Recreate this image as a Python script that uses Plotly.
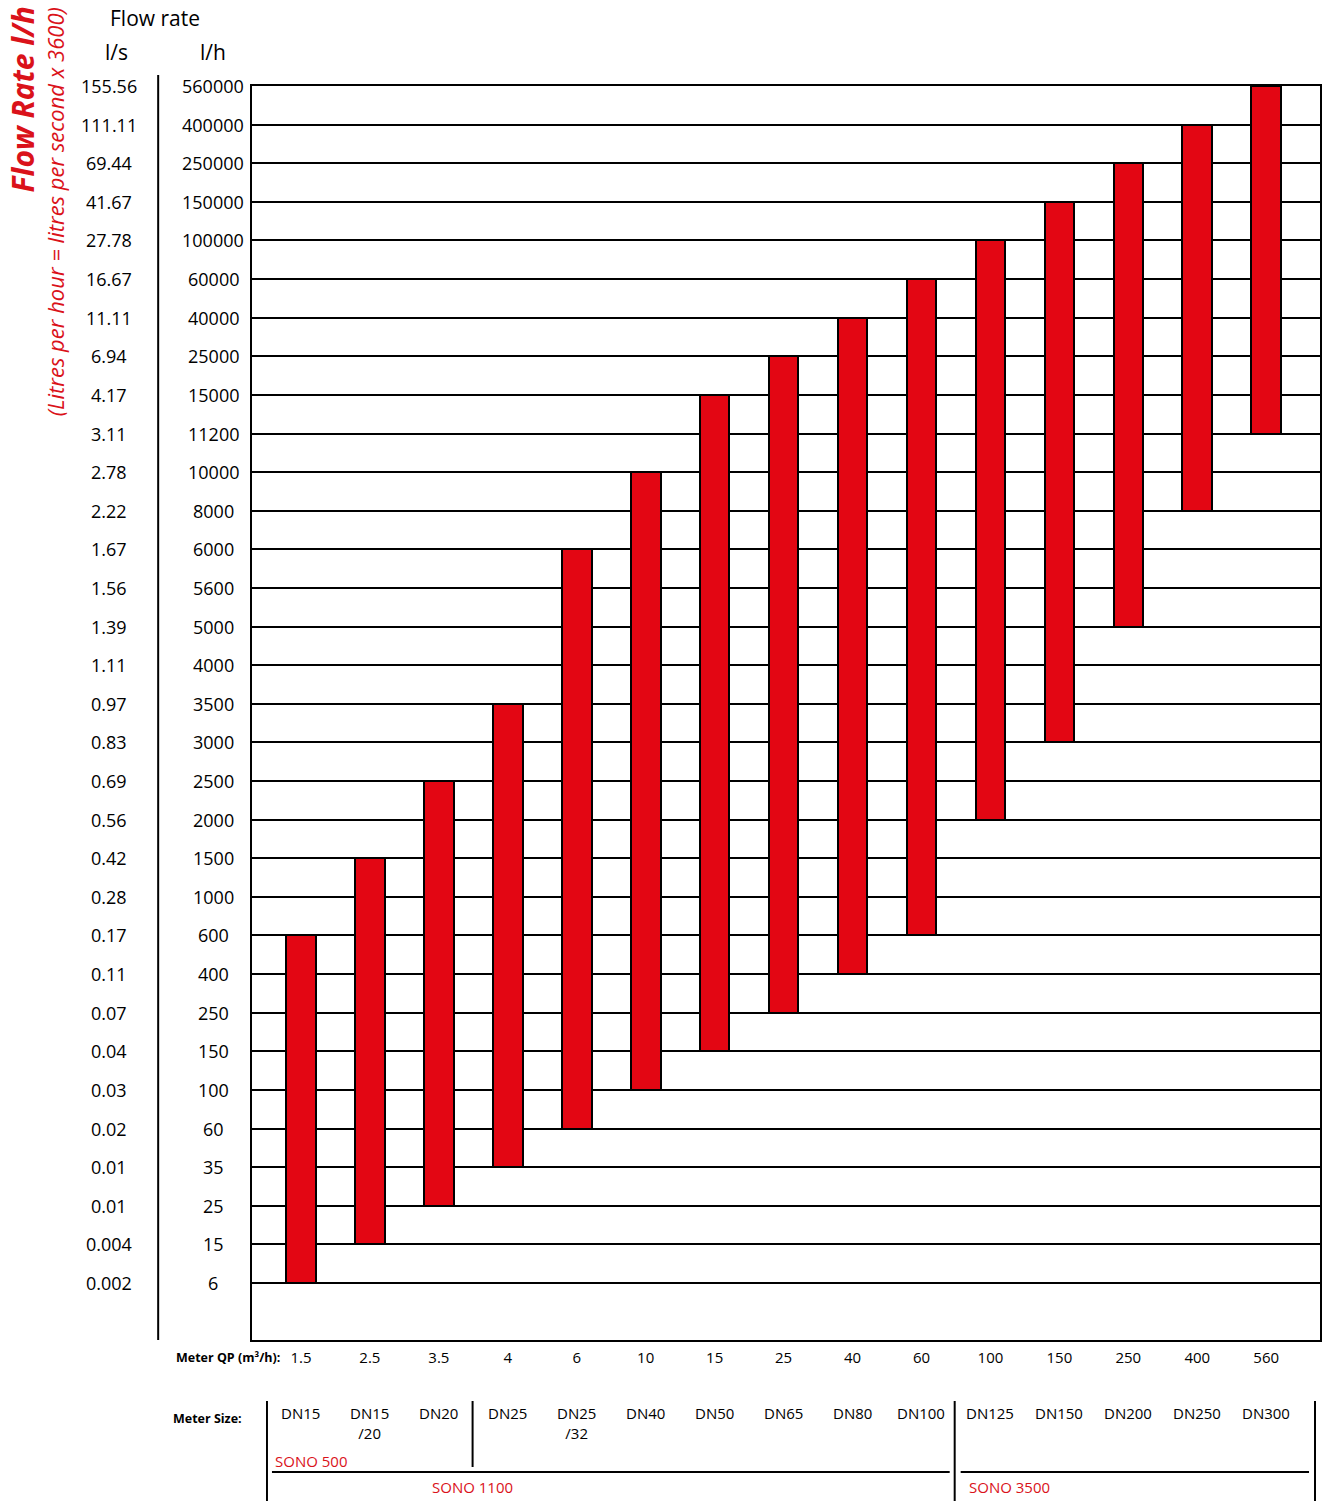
import plotly.graph_objects as go

# Flow-rate levels (l/h) and their l/s equivalents, bottom to top
flow_lh = [6, 15, 25, 35, 60, 100, 150, 250, 400, 600, 1000, 1500, 2000, 2500,
           3000, 3500, 4000, 5000, 5600, 6000, 8000, 10000, 11200, 15000, 25000,
           40000, 60000, 100000, 150000, 250000, 400000, 560000]
flow_ls = ["0.002", "0.004", "0.01", "0.01", "0.02", "0.03", "0.04", "0.07", "0.11",
           "0.17", "0.28", "0.42", "0.56", "0.69", "0.83", "0.97", "1.11", "1.39",
           "1.56", "1.67", "2.22", "2.78", "3.11", "4.17", "6.94", "11.11", "16.67",
           "27.78", "41.67", "69.44", "111.11", "155.56"]

# Meters: nominal flow QP (m³/h), size, and measuring range (l/h)
meter_qp = ["1.5", "2.5", "3.5", "4", "6", "10", "15", "25", "40", "60",
            "100", "150", "250", "400", "560"]
meter_size = ["DN15", "DN15<br>/20", "DN20", "DN25", "DN25<br>/32", "DN40", "DN50",
              "DN65", "DN80", "DN100", "DN125", "DN150", "DN200", "DN250", "DN300"]
range_min = [6, 15, 25, 35, 60, 100, 150, 250, 400, 600, 2000, 3000, 5000, 8000, 11200]
range_max = [600, 1500, 2500, 3500, 6000, 10000, 15000, 25000, 40000, 60000,
             100000, 150000, 250000, 400000, 560000]

RED = "#E30613"
TXT_RED = "#DA121A"
FONT = "Open Sans"

W, H = 1324, 1501
L, R, T, B = 252, 2, 86, 161
PW, PH = W - L - R, H - T - B


def px(x):
    return (x - L) / PW


def py(y):
    return (H - B - y) / PH


lo_idx = [flow_lh.index(v) for v in range_min]
hi_idx = [flow_lh.index(v) for v in range_max]
xs = list(range(len(meter_qp)))

fig = go.Figure()
fig.add_trace(go.Bar(
    x=xs,
    y=[h - l for l, h in zip(lo_idx, hi_idx)],
    base=lo_idx,
    width=0.43,
    marker=dict(color=RED, line=dict(color="black", width=2)),
    hoverinfo="skip",
))

annotations = []
# l/s and l/h scale columns
for i, (lh, ls) in enumerate(zip(flow_lh, flow_ls)):
    annotations.append(dict(x=px(109), y=i, xref="paper", yref="y", text=ls,
                            showarrow=False, xanchor="center", yanchor="middle",
                            font=dict(size=18, family=FONT, color="black")))
    annotations.append(dict(x=px(213), y=i, xref="paper", yref="y", text=str(lh),
                            showarrow=False, xanchor="center", yanchor="middle",
                            font=dict(size=18, family=FONT, color="black")))

# Column headers
annotations += [
    dict(x=px(155), y=py(18), xref="paper", yref="paper", text="Flow rate",
         showarrow=False, xanchor="center", yanchor="middle",
         font=dict(size=21, family=FONT, color="black")),
    dict(x=px(116), y=py(52), xref="paper", yref="paper", text="l/s",
         showarrow=False, xanchor="center", yanchor="middle",
         font=dict(size=21, family=FONT, color="black")),
    dict(x=px(213), y=py(52), xref="paper", yref="paper", text="l/h",
         showarrow=False, xanchor="center", yanchor="middle",
         font=dict(size=21, family=FONT, color="black")),
]

# Rotated axis titles
annotations += [
    dict(x=px(23), y=py(99), xref="paper", yref="paper",
         text="<b><i>Flow Rate l/h</i></b>", textangle=-90,
         showarrow=False, xanchor="center", yanchor="middle",
         font=dict(size=30, family=FONT, color=TXT_RED)),
    dict(x=px(55), y=py(212), xref="paper", yref="paper",
         text="<i>(Litres per hour = litres per second x 3600)</i>", textangle=-90,
         showarrow=False, xanchor="center", yanchor="middle",
         font=dict(size=22, family=FONT, color=TXT_RED)),
]

# Bottom captions
annotations += [
    dict(x=px(282), y=py(1357), xref="paper", yref="paper",
         text="<b>Meter QP (m³/h):</b>", showarrow=False,
         xanchor="right", yanchor="middle",
         font=dict(size=12.5, family=FONT, color="black")),
    dict(x=px(171), y=py(1418), xref="paper", yref="paper",
         text="<b>Meter Size:</b>", showarrow=False,
         xanchor="left", yanchor="middle",
         font=dict(size=12.5, family=FONT, color="black")),
]
for i, s in enumerate(meter_size):
    annotations.append(dict(x=i, y=py(1401), xref="x", yref="paper", text=s,
                            showarrow=False, xanchor="center", yanchor="top",
                            font=dict(size=15, family=FONT, color="black")))

# Product series labels
for txt, x0, y0 in [("SONO 500", 273, 1461), ("SONO 1100", 430, 1487),
                    ("SONO 3500", 968, 1487)]:
    annotations.append(dict(x=px(x0), y=py(y0), xref="paper", yref="paper",
                            text=txt, showarrow=False, xanchor="left",
                            yanchor="middle",
                            font=dict(size=15, family=FONT, color=TXT_RED)))

shapes = []


def seg(x0, y0, x1, y1, w=2):
    shapes.append(dict(type="line", xref="paper", yref="paper",
                       x0=px(x0), y0=py(y0), x1=px(x1), y1=py(y1),
                       line=dict(color="black", width=w)))


# Separator next to the scale columns
seg(158, 75, 158, 1340)
# Meter size grouping lines
seg(267, 1401, 267, 1501)
seg(473, 1401, 473, 1467)
seg(272, 1472, 951, 1472)
seg(956, 1401, 956, 1501)
seg(962, 1472, 1311, 1472)
seg(1317, 1401, 1317, 1501)

fig.update_layout(
    width=W, height=H,
    margin=dict(l=L, r=R, t=T, b=B, pad=0),
    paper_bgcolor="white", plot_bgcolor="white",
    showlegend=False,
    annotations=annotations,
    shapes=shapes,
    xaxis=dict(
        range=[-0.71, 14.78], tickvals=xs, ticktext=meter_qp,
        showgrid=False, zeroline=False,
        showline=True, mirror=True, linecolor="black", linewidth=2,
        ticks="", ticklabelstandoff=3,
        tickfont=dict(size=15, family=FONT, color="black"),
    ),
    yaxis=dict(
        range=[-1.476, 31.0], tickvals=list(range(len(flow_lh))),
        showticklabels=False, ticks="",
        showgrid=True, gridcolor="black", gridwidth=1.5, zeroline=False,
        showline=True, mirror=True, linecolor="black", linewidth=2,
    ),
    bargap=0,
)

fig.write_html("out.html")
